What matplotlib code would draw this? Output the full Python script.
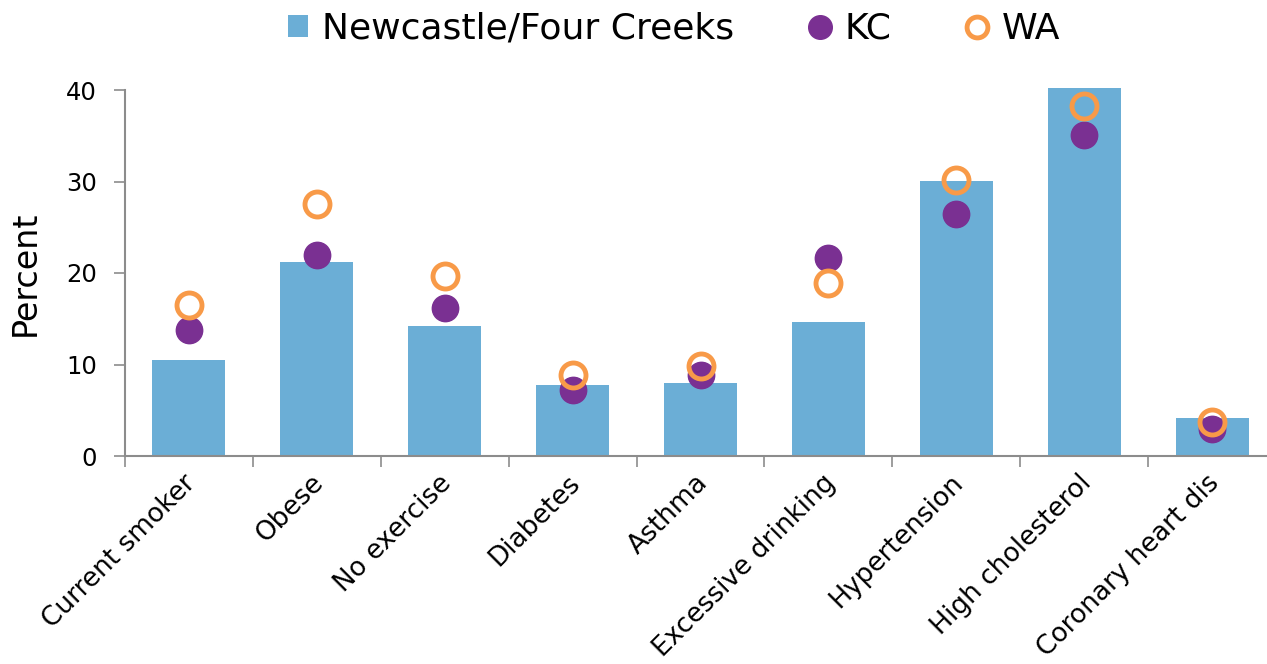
import matplotlib
matplotlib.use("Agg")
import matplotlib.pyplot as plt
import matplotlib.transforms as mtransforms
from matplotlib.lines import Line2D
from matplotlib.patches import Patch

categories = ["Current smoker", "Obese", "No exercise", "Diabetes", "Asthma",
              "Excessive drinking", "Hypertension", "High cholesterol", "Coronary heart dis"]
newcastle = [10.5, 21.2, 14.2, 7.8, 8.0, 14.6, 30.1, 40.2, 4.2]
kc = [13.8, 22.0, 16.2, 7.2, 8.8, 21.6, 26.4, 35.1, 3.0]
wa = [16.5, 27.5, 19.7, 8.9, 9.8, 18.9, 30.2, 38.2, 3.7]

BAR = "#6baed6"
PURPLE = "#7a3092"
ORANGE = "#f89a48"
GRAY = "#8c8c8c"

plt.rcParams["font.family"] = ["DejaVu Sans"]

W, H = 1267, 664
fig = plt.figure(figsize=(W / 100, H / 100), dpi=100)
ax = fig.add_axes([125 / W, (H - 456) / H, (1276 - 125) / W, (456 - 90) / H])

x = list(range(len(categories)))
ax.bar(x, newcastle, width=0.57, color=BAR, clip_on=False, zorder=2)
ax.plot(x, kc, "o", color=PURPLE, ms=19, mec=PURPLE, zorder=3, clip_on=False)
ax.plot(x, wa, "o", color="none", mfc="none", mec=ORANGE, mew=3.5, ms=18,
        zorder=4, clip_on=False)

ax.set_xlim(-0.5, len(categories) - 0.5)
ax.set_ylim(0, 40)
ax.set_yticks([0, 10, 20, 30, 40])
ax.tick_params(axis="y", labelsize=17.5, length=8, width=1.2, color=GRAY, pad=12)
ax.set_ylabel("Percent", fontsize=24, labelpad=18)

ax.set_xticks(x)
ax.set_xticklabels(categories, rotation=45, ha="right", va="top",
                   rotation_mode="anchor", fontsize=19)
ax.tick_params(axis="x", length=0, pad=10)
shift = mtransforms.ScaledTranslation(-6 / 100, 0, fig.dpi_scale_trans)
for lbl in ax.get_xticklabels():
    lbl.set_transform(lbl.get_transform() + shift)
ax.set_xticks([i - 0.5 for i in range(len(categories) + 1)], minor=True)
ax.tick_params(axis="x", which="minor", length=8, width=1.2, color=GRAY)

for side in ("top", "right"):
    ax.spines[side].set_visible(False)
for side in ("left", "bottom"):
    ax.spines[side].set_color(GRAY)
    ax.spines[side].set_linewidth(1.5)

handles = [
    Patch(facecolor=BAR, edgecolor="none"),
    Line2D([], [], ls="none", marker="o", ms=17, color=PURPLE),
    Line2D([], [], ls="none", marker="o", ms=15, mfc="none", mec=ORANGE, mew=3.5),
]
fig.legend(handles, ["Newcastle/Four Creeks", "KC", "WA"], loc="center",
           bbox_to_anchor=(0.532, 0.957), ncol=3, frameon=False, fontsize=26,
           handlelength=0.55, handleheight=0.55, handletextpad=0.4, columnspacing=2.1)

fig.savefig("out.png", dpi=100)
